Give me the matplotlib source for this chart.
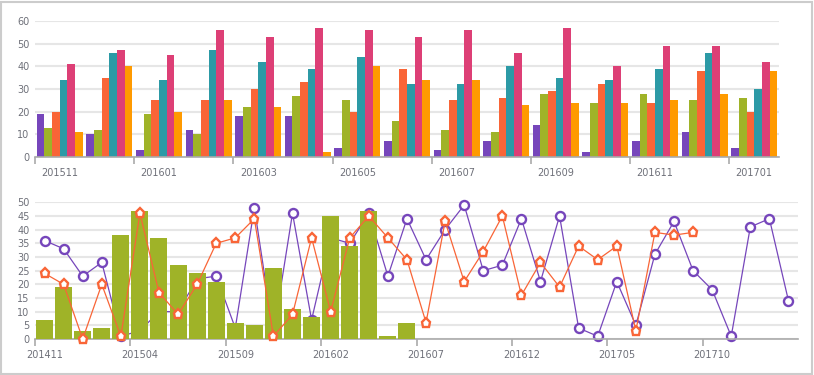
import numpy as np
import matplotlib
matplotlib.use("Agg")
import matplotlib.pyplot as plt
from matplotlib.patches import Rectangle

# top chart: six series per month
top_months = ["201511", "201512", "201601", "201602", "201603", "201604", "201605",
              "201606", "201607", "201608", "201609", "201610", "201611", "201612", "201701"]
s_purple = [19, 10, 3, 12, 18, 18, 4, 7, 3, 7, 14, 2, 7, 11, 4]
s_olive = [13, 12, 19, 10, 22, 27, 25, 16, 12, 11, 28, 24, 28, 25, 26]
s_orange = [20, 35, 25, 25, 30, 33, 20, 39, 25, 26, 29, 32, 24, 38, 20]
s_teal = [34, 46, 34, 47, 42, 39, 44, 32, 32, 40, 35, 34, 39, 46, 30]
s_pink = [41, 47, 45, 56, 53, 57, 56, 53, 56, 46, 57, 40, 49, 49, 42]
s_amber = [11, 40, 20, 25, 22, 2, 40, 34, 34, 23, 24, 24, 25, 28, 38]

# bottom chart: bars + two lines
bottom_months = []
y, m = 2014, 11
for _ in range(40):
    bottom_months.append(f"{y}{m:02d}")
    m += 1
    if m > 12:
        y, m = y + 1, 1
bar_vals = [7, 19, 3, 4, 38, 47, 37, 27, 24, 21, 6, 5, 26, 11, 8, 45, 34, 47, 1, 6]
line_purple = [36, 33, 23, 28, 1, 3, 10, 10, 22, 23, 4, 48, 2, 46, 7, 37, 35, 46, 23, 44,
               29, 40, 49, 25, 27, 44, 21, 45, 4, 1, 21, 5, 31, 43, 25, 18, 1, 41, 44, 14]
line_red = [24, 20, 0, 20, 1, 46, 17, 9, 20, 35, 37, 44, 1, 9, 37, 10, 37, 45, 37, 29,
            6, 43, 21, 32, 45, 16, 28, 19, 34, 29, 34, 3, 39, 38, 39]

C_PURPLE = "#7646BB"
C_OLIVE = "#9FB328"
C_ORANGE = "#F96537"
C_TEAL = "#2C9AA6"
C_PINK = "#DD3F76"
C_AMBER = "#FF9A00"
TXT = "#6E7079"
GRID = "#E6E6E6"
AXIS = "#AAAAAA"

plt.rcParams["font.family"] = ["DejaVu Sans"]

fig = plt.figure(figsize=(8.14, 3.75), dpi=100)
fig.patch.set_facecolor("white")
fig.patches.append(Rectangle((0.001, 0.002), 0.996, 0.994, transform=fig.transFigure,
                             fill=False, edgecolor="#CCCCCC", linewidth=1.5))


def style_axes(ax):
    for side in ["top", "right", "left"]:
        ax.spines[side].set_visible(False)
    ax.spines["bottom"].set_color(AXIS)
    ax.spines["bottom"].set_linewidth(1.2)
    ax.yaxis.grid(True, color=GRID, linewidth=1.5)
    ax.set_axisbelow(True)
    ax.tick_params(axis="y", length=0, labelsize=7, labelcolor=TXT, pad=4)
    ax.tick_params(axis="x", which="major", length=5, color=AXIS, width=1.2)
    ax.tick_params(axis="x", which="minor", length=0, labelsize=7, labelcolor=TXT, pad=8)


# ---- top chart
ax1 = fig.add_axes([35 / 814, (375 - 157) / 375, (779 - 35) / 814, (157 - 21) / 375])
series = [s_purple, s_olive, s_orange, s_teal, s_pink, s_amber]
colors = [C_PURPLE, C_OLIVE, C_ORANGE, C_TEAL, C_PINK, C_AMBER]
x = np.arange(len(top_months))
bw = 0.155
for i, (vals, c) in enumerate(zip(series, colors)):
    ax1.bar(x + (i - 2.5) * bw, vals, width=bw, color=c, linewidth=0, zorder=2)
ax1.set_xlim(-0.5, len(top_months) - 0.5)
ax1.set_ylim(0, 60)
ax1.set_yticks(range(0, 61, 10))
style_axes(ax1)
ax1.set_xticks(np.arange(-0.5, len(top_months) - 1, 2))
ax1.set_xticklabels([])
ax1.set_xticks(x[::2], minor=True)
ax1.set_xticklabels(top_months[::2], minor=True)

# ---- bottom chart
ax2 = fig.add_axes([35 / 814, (375 - 339) / 375, (798 - 35) / 814, (339 - 202.3) / 375])
xb = np.arange(len(bottom_months))
ax2.plot(xb, line_purple, color=C_PURPLE, linewidth=0.9, marker="o", markersize=6.5,
         markerfacecolor="white", markeredgecolor=C_PURPLE, markeredgewidth=1.7, zorder=2,
         clip_on=False)
ax2.bar(xb[:len(bar_vals)], bar_vals, width=0.89, color=C_OLIVE, linewidth=0, zorder=3)
ax2.plot(xb[:len(line_red)], line_red, color=C_ORANGE, linewidth=0.9, marker="p", markersize=6.5,
         markerfacecolor="white", markeredgecolor=C_ORANGE, markeredgewidth=1.7, zorder=4,
         clip_on=False)
ax2.set_xlim(-0.5, len(bottom_months) - 0.5)
ax2.set_ylim(0, 50)
ax2.set_yticks(range(0, 51, 5))
style_axes(ax2)
ax2.set_xticks(np.arange(-0.5, len(bottom_months) - 1, 5))
ax2.set_xticklabels([])
ax2.set_xticks(xb[::5], minor=True)
ax2.set_xticklabels(bottom_months[::5], minor=True)

fig.savefig("out.png", dpi=100, facecolor="white")
